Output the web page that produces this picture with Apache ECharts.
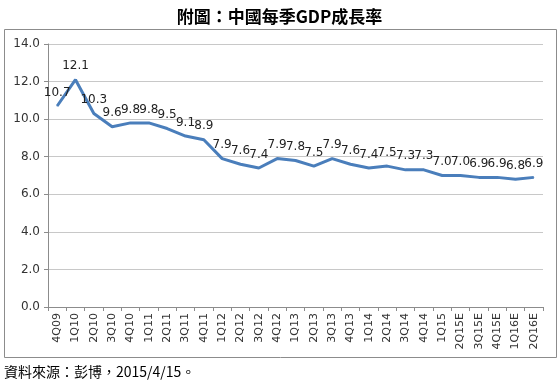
<!DOCTYPE html>
<html><head><meta charset="utf-8">
<script src="https://cdn.jsdelivr.net/npm/echarts@6/dist/echarts.min.js"></script>
<style>html,body{margin:0;padding:0;background:#fff;}#c{width:559px;height:385px;}</style>
</head><body><div id="c"></div>
<script>
const categories = ["4Q09","1Q10","2Q10","3Q10","4Q10","1Q11","2Q11","3Q11","4Q11","1Q12","2Q12","3Q12","4Q12","1Q13","2Q13","3Q13","4Q13","1Q14","2Q14","3Q14","4Q14","1Q15","2Q15E","3Q15E","4Q15E","1Q16E","2Q16E"];
const gdpGrowth = [10.7,12.1,10.3,9.6,9.8,9.8,9.5,9.1,8.9,7.9,7.6,7.4,7.9,7.8,7.5,7.9,7.6,7.4,7.5,7.3,7.3,7.0,7.0,6.9,6.9,6.8,6.9];
const titleText = "附圖：中國每季GDP成長率";
const sourceText = "資料來源：彭博，2015/4/15。";

const chart = echarts.init(document.getElementById('c'));
chart.setOption({
  animation: false,
  backgroundColor: '#fff',
  title: {
    text: titleText, left: 'center', top: 3,
    textStyle: {fontFamily: 'Noto Sans CJK TC', fontWeight: 'bold', fontSize: 17, color: '#000'}
  },
  graphic: [
    {type: 'rect', shape: {x: 4.5, y: 29.5, width: 552, height: 328}, style: {fill: 'none', stroke: '#8c8c8c', lineWidth: 1}},
    {type: 'text', left: 4, top: 365, style: {text: sourceText, font: '14px "Noto Sans CJK TC"', fill: '#000'}}
  ],
  grid: {left: 48, right: 16, top: 44, bottom: 78},
  xAxis: {
    type: 'category', data: categories, boundaryGap: true,
    axisLine: {lineStyle: {color: '#8c8c8c'}},
    axisTick: {show: true, alignWithLabel: false, length: 4, lineStyle: {color: '#8c8c8c'}},
    axisLabel: {rotate: 90, interval: 0, fontSize: 11, color: '#333', fontFamily: 'DejaVu Sans', margin: 6}
  },
  yAxis: {
    type: 'value', min: 0, max: 14, interval: 2,
    axisLine: {show: true, lineStyle: {color: '#8c8c8c'}},
    axisTick: {show: true, length: 4, lineStyle: {color: '#8c8c8c'}},
    splitLine: {lineStyle: {color: '#c8c8c8', width: 1}},
    axisLabel: {formatter: v => v.toFixed(1), fontSize: 12, color: '#333', fontFamily: 'DejaVu Sans', margin: 8}
  },
  series: [{
    type: 'line', data: gdpGrowth, symbol: 'circle', symbolSize: 1, showSymbol: true,
    itemStyle: {color: '#4a7ebb'},
    lineStyle: {color: '#4a7ebb', width: 3},
    label: {show: true, position: 'top', distance: 7, fontSize: 12, color: '#222', fontFamily: 'DejaVu Sans', formatter: p => p.value.toFixed(1)},
    labelLayout: {hideOverlap: false}
  }]
});
</script></body></html>
